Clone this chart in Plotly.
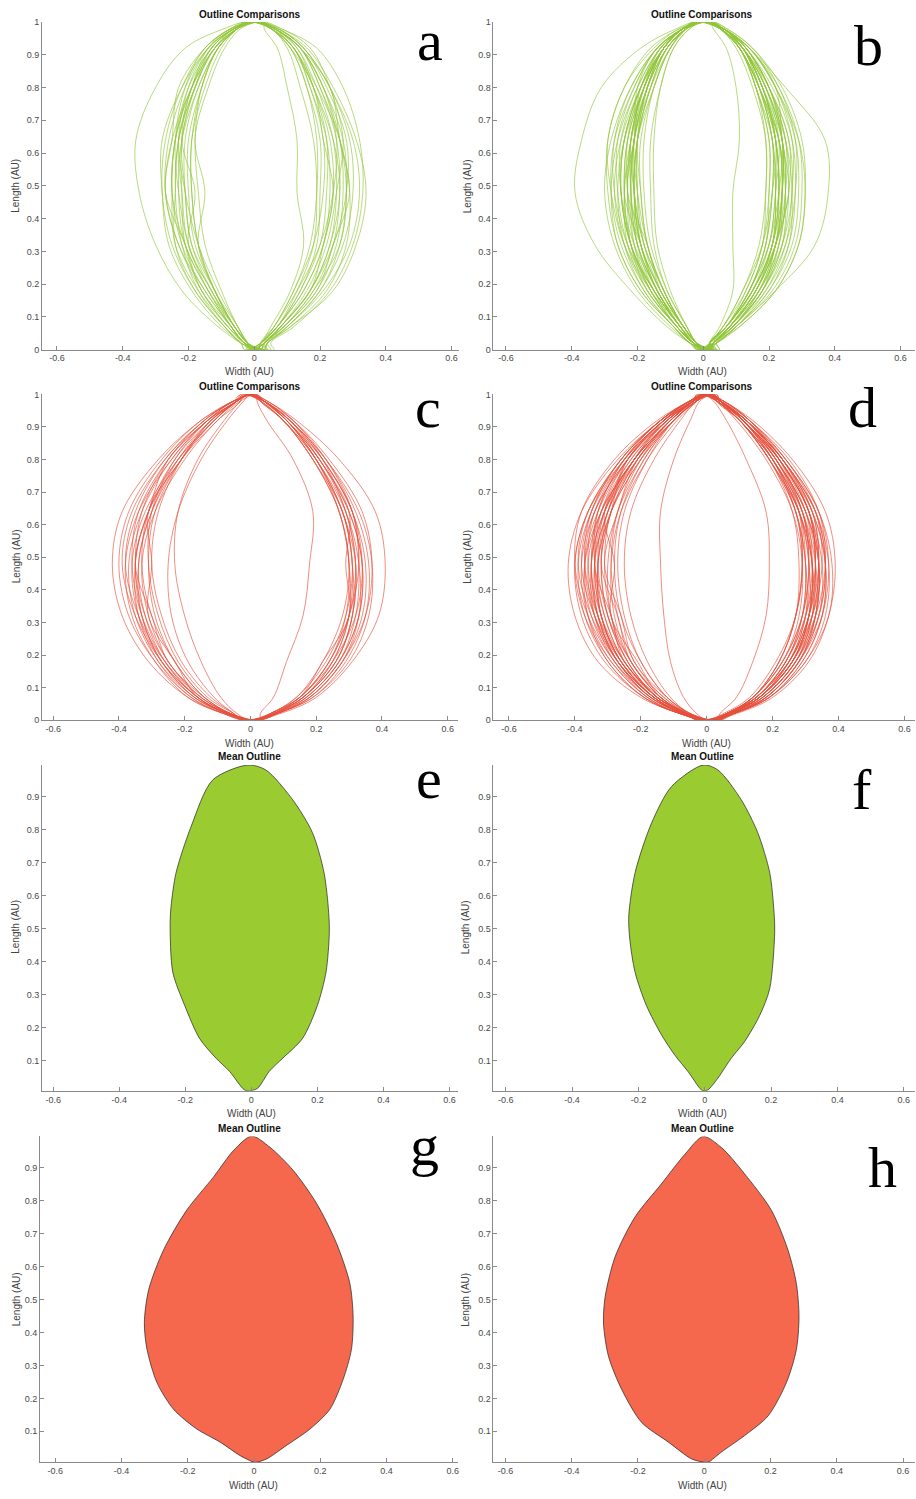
import plotly.graph_objects as go

# ---------------- data ----------------
Y_LEVELS = [0.02, 0.07, 0.18, 0.32, 0.48, 0.64, 0.80, 0.92, 0.98]

# Panel a (green outline comparisons): x of left / right edge at each level
A_LEFT = [
    [-0.04, -0.11, -0.22, -0.30, -0.35, -0.36, -0.30, -0.21, -0.09],
    [-0.03, -0.07, -0.15, -0.22, -0.25, -0.24, -0.19, -0.12, -0.05],
    [-0.02, -0.06, -0.12, -0.17, -0.19, -0.19, -0.15, -0.10, -0.05],
    [-0.03, -0.08, -0.16, -0.23, -0.27, -0.26, -0.21, -0.14, -0.06],
    [-0.02, -0.05, -0.12, -0.17, -0.15, -0.18, -0.14, -0.09, -0.04],
    [-0.04, -0.09, -0.18, -0.25, -0.28, -0.27, -0.22, -0.15, -0.07],
    [-0.02, -0.06, -0.13, -0.20, -0.22, -0.23, -0.18, -0.12, -0.05],
    [-0.03, -0.07, -0.14, -0.21, -0.23, -0.22, -0.17, -0.11, -0.05],
    [-0.02, -0.06, -0.12, -0.19, -0.21, -0.21, -0.17, -0.11, -0.05],
    [-0.04, -0.10, -0.19, -0.26, -0.28, -0.28, -0.22, -0.14, -0.06],
    [-0.03, -0.07, -0.13, -0.20, -0.18, -0.22, -0.19, -0.13, -0.06],
    [-0.02, -0.06, -0.14, -0.21, -0.25, -0.24, -0.20, -0.13, -0.06],
    [-0.03, -0.08, -0.17, -0.24, -0.25, -0.24, -0.19, -0.13, -0.06],
    [-0.02, -0.05, -0.10, -0.15, -0.17, -0.18, -0.16, -0.11, -0.05],
    [-0.04, -0.09, -0.18, -0.24, -0.24, -0.23, -0.18, -0.12, -0.06],
    [-0.03, -0.07, -0.16, -0.21, -0.27, -0.25, -0.23, -0.15, -0.07],
    [-0.02, -0.06, -0.12, -0.17, -0.19, -0.19, -0.16, -0.11, -0.05],
    [-0.03, -0.08, -0.16, -0.21, -0.22, -0.22, -0.18, -0.13, -0.06],
    [-0.03, -0.07, -0.15, -0.23, -0.27, -0.25, -0.19, -0.12, -0.05],
    [-0.02, -0.06, -0.13, -0.19, -0.21, -0.22, -0.18, -0.12, -0.05],
    [-0.04, -0.09, -0.17, -0.22, -0.24, -0.23, -0.19, -0.14, -0.07],
    [-0.02, -0.05, -0.11, -0.17, -0.21, -0.23, -0.20, -0.14, -0.06],
    [-0.03, -0.07, -0.14, -0.20, -0.23, -0.24, -0.21, -0.15, -0.07],
    [-0.02, -0.06, -0.12, -0.18, -0.20, -0.20, -0.16, -0.11, -0.05],
]
A_RIGHT = [
    [0.03, 0.09, 0.18, 0.26, 0.28, 0.26, 0.20, 0.14, 0.06],
    [0.04, 0.11, 0.24, 0.31, 0.34, 0.31, 0.24, 0.16, 0.07],
    [0.03, 0.08, 0.17, 0.23, 0.25, 0.24, 0.19, 0.13, 0.06],
    [0.02, 0.07, 0.15, 0.21, 0.24, 0.23, 0.18, 0.12, 0.05],
    [0.02, 0.06, 0.12, 0.18, 0.21, 0.21, 0.17, 0.12, 0.05],
    [0.04, 0.10, 0.20, 0.27, 0.30, 0.29, 0.23, 0.15, 0.07],
    [0.02, 0.05, 0.11, 0.15, 0.13, 0.13, 0.10, 0.07, 0.03],
    [0.03, 0.09, 0.19, 0.25, 0.27, 0.26, 0.21, 0.14, 0.06],
    [0.03, 0.08, 0.17, 0.21, 0.24, 0.21, 0.18, 0.11, 0.05],
    [0.02, 0.07, 0.14, 0.20, 0.22, 0.22, 0.18, 0.13, 0.06],
    [0.04, 0.10, 0.21, 0.29, 0.32, 0.30, 0.23, 0.15, 0.07],
    [0.02, 0.07, 0.14, 0.19, 0.20, 0.20, 0.16, 0.11, 0.05],
    [0.03, 0.09, 0.18, 0.24, 0.26, 0.25, 0.20, 0.14, 0.06],
    [0.02, 0.07, 0.13, 0.18, 0.19, 0.18, 0.14, 0.10, 0.05],
    [0.04, 0.11, 0.22, 0.28, 0.29, 0.26, 0.19, 0.12, 0.06],
    [0.03, 0.08, 0.17, 0.24, 0.28, 0.28, 0.22, 0.15, 0.07],
    [0.02, 0.06, 0.13, 0.20, 0.24, 0.25, 0.21, 0.14, 0.06],
    [0.03, 0.08, 0.16, 0.22, 0.25, 0.27, 0.23, 0.17, 0.08],
    [0.05, 0.12, 0.23, 0.30, 0.33, 0.32, 0.27, 0.19, 0.08],
    [0.02, 0.07, 0.15, 0.21, 0.23, 0.22, 0.17, 0.12, 0.05],
    [0.02, 0.06, 0.12, 0.17, 0.19, 0.19, 0.16, 0.11, 0.05],
    [0.03, 0.09, 0.19, 0.24, 0.29, 0.26, 0.23, 0.14, 0.06],
    [0.03, 0.08, 0.17, 0.23, 0.26, 0.24, 0.18, 0.12, 0.05],
    [0.04, 0.10, 0.20, 0.26, 0.28, 0.27, 0.21, 0.14, 0.06],
]
A_BOTTOM_TIP = [0.00, 0.03, 0.02, -0.01, 0.01, 0.02, -0.02, 0.04, 0.00, -0.03, 0.05, 0.01,
                0.02, -0.01, 0.03, 0.00, 0.04, -0.02, 0.06, 0.01, -0.03, 0.02, 0.00, 0.03]
A_TOP_TIP = [-0.02, 0.01, -0.01, 0.00, 0.02, -0.03, 0.03, 0.00, -0.01, 0.01, -0.02, 0.02,
             0.00, -0.03, 0.01, 0.02, -0.01, 0.00, 0.03, -0.02, 0.01, 0.00, -0.01, 0.02]

# Panel b (green outline comparisons)
B_LEFT = [
    [-0.04, -0.11, -0.22, -0.33, -0.39, -0.37, -0.31, -0.19, -0.08],
    [-0.03, -0.07, -0.15, -0.22, -0.25, -0.24, -0.19, -0.12, -0.06],
    [-0.03, -0.08, -0.16, -0.22, -0.24, -0.23, -0.18, -0.12, -0.06],
    [-0.02, -0.07, -0.14, -0.20, -0.22, -0.21, -0.17, -0.11, -0.05],
    [-0.02, -0.06, -0.13, -0.19, -0.21, -0.20, -0.16, -0.11, -0.05],
    [-0.03, -0.08, -0.16, -0.22, -0.25, -0.24, -0.19, -0.13, -0.06],
    [-0.02, -0.06, -0.12, -0.17, -0.19, -0.19, -0.15, -0.10, -0.05],
    [-0.04, -0.09, -0.18, -0.25, -0.28, -0.27, -0.21, -0.14, -0.06],
    [-0.03, -0.07, -0.15, -0.21, -0.23, -0.22, -0.18, -0.12, -0.06],
    [-0.02, -0.05, -0.11, -0.16, -0.18, -0.18, -0.15, -0.10, -0.05],
    [-0.03, -0.08, -0.17, -0.24, -0.27, -0.25, -0.19, -0.12, -0.06],
    [-0.03, -0.07, -0.14, -0.19, -0.20, -0.20, -0.17, -0.12, -0.06],
    [-0.02, -0.06, -0.14, -0.19, -0.24, -0.21, -0.19, -0.12, -0.06],
    [-0.04, -0.10, -0.20, -0.27, -0.30, -0.28, -0.22, -0.14, -0.06],
    [-0.02, -0.06, -0.12, -0.18, -0.21, -0.22, -0.18, -0.12, -0.06],
    [-0.03, -0.07, -0.14, -0.19, -0.21, -0.21, -0.17, -0.11, -0.05],
    [-0.03, -0.08, -0.16, -0.23, -0.26, -0.26, -0.21, -0.14, -0.06],
    [-0.02, -0.05, -0.11, -0.15, -0.16, -0.16, -0.13, -0.09, -0.04],
    [-0.03, -0.07, -0.15, -0.22, -0.24, -0.23, -0.18, -0.12, -0.06],
    [-0.04, -0.09, -0.19, -0.26, -0.28, -0.26, -0.20, -0.13, -0.06],
    [-0.02, -0.06, -0.13, -0.18, -0.20, -0.20, -0.16, -0.11, -0.05],
    [-0.03, -0.07, -0.14, -0.21, -0.25, -0.25, -0.20, -0.13, -0.06],
    [-0.03, -0.08, -0.16, -0.21, -0.22, -0.21, -0.17, -0.12, -0.06],
    [-0.02, -0.06, -0.12, -0.17, -0.20, -0.21, -0.18, -0.13, -0.06],
    [-0.03, -0.07, -0.15, -0.23, -0.27, -0.27, -0.22, -0.14, -0.06],
    [-0.02, -0.06, -0.13, -0.19, -0.22, -0.21, -0.16, -0.10, -0.05],
    [-0.03, -0.08, -0.17, -0.22, -0.23, -0.22, -0.18, -0.12, -0.06],
    [-0.02, -0.05, -0.10, -0.14, -0.15, -0.15, -0.13, -0.09, -0.04],
    [-0.04, -0.09, -0.18, -0.24, -0.26, -0.24, -0.18, -0.12, -0.06],
    [-0.03, -0.07, -0.14, -0.20, -0.23, -0.23, -0.19, -0.13, -0.06],
    [-0.02, -0.06, -0.13, -0.17, -0.23, -0.21, -0.20, -0.14, -0.06],
    [-0.03, -0.08, -0.15, -0.20, -0.21, -0.20, -0.16, -0.11, -0.05],
    [-0.03, -0.07, -0.16, -0.24, -0.28, -0.29, -0.24, -0.16, -0.07],
    [-0.02, -0.06, -0.13, -0.19, -0.21, -0.20, -0.15, -0.10, -0.05],
    [-0.03, -0.07, -0.14, -0.20, -0.22, -0.22, -0.18, -0.12, -0.06],
    [-0.03, -0.08, -0.17, -0.23, -0.24, -0.22, -0.17, -0.11, -0.05],
    [-0.02, -0.06, -0.12, -0.18, -0.21, -0.21, -0.17, -0.12, -0.06],
    [-0.03, -0.07, -0.15, -0.22, -0.25, -0.24, -0.19, -0.12, -0.06],
    [-0.02, -0.06, -0.12, -0.17, -0.19, -0.20, -0.17, -0.12, -0.06],
    [-0.04, -0.09, -0.19, -0.26, -0.29, -0.29, -0.24, -0.15, -0.07],
]
B_RIGHT = [
    [0.03, 0.08, 0.16, 0.22, 0.24, 0.23, 0.18, 0.12, 0.06],
    [0.04, 0.10, 0.22, 0.34, 0.38, 0.37, 0.25, 0.14, 0.06],
    [0.02, 0.05, 0.09, 0.09, 0.09, 0.11, 0.10, 0.07, 0.03],
    [0.02, 0.07, 0.15, 0.21, 0.23, 0.22, 0.17, 0.11, 0.05],
    [0.03, 0.08, 0.16, 0.21, 0.22, 0.21, 0.16, 0.11, 0.05],
    [0.03, 0.09, 0.18, 0.24, 0.26, 0.25, 0.20, 0.13, 0.06],
    [0.02, 0.07, 0.14, 0.19, 0.21, 0.21, 0.17, 0.12, 0.06],
    [0.03, 0.08, 0.17, 0.23, 0.25, 0.24, 0.19, 0.12, 0.05],
    [0.04, 0.10, 0.20, 0.27, 0.29, 0.28, 0.22, 0.14, 0.06],
    [0.02, 0.06, 0.12, 0.17, 0.19, 0.19, 0.16, 0.11, 0.05],
    [0.02, 0.07, 0.14, 0.19, 0.20, 0.20, 0.16, 0.11, 0.05],
    [0.03, 0.09, 0.18, 0.25, 0.28, 0.28, 0.23, 0.15, 0.07],
    [0.03, 0.08, 0.15, 0.20, 0.22, 0.22, 0.18, 0.12, 0.06],
    [0.03, 0.09, 0.17, 0.22, 0.24, 0.24, 0.20, 0.13, 0.06],
    [0.04, 0.11, 0.22, 0.29, 0.31, 0.29, 0.22, 0.14, 0.06],
    [0.02, 0.07, 0.14, 0.20, 0.22, 0.23, 0.19, 0.13, 0.06],
    [0.03, 0.08, 0.16, 0.22, 0.25, 0.25, 0.20, 0.13, 0.06],
    [0.02, 0.07, 0.15, 0.21, 0.24, 0.24, 0.19, 0.12, 0.05],
    [0.02, 0.06, 0.13, 0.18, 0.20, 0.20, 0.16, 0.11, 0.05],
    [0.03, 0.09, 0.19, 0.26, 0.28, 0.27, 0.21, 0.13, 0.06],
    [0.03, 0.08, 0.16, 0.22, 0.24, 0.23, 0.17, 0.11, 0.05],
    [0.02, 0.07, 0.14, 0.19, 0.21, 0.21, 0.17, 0.12, 0.06],
    [0.04, 0.10, 0.20, 0.26, 0.27, 0.25, 0.19, 0.12, 0.05],
    [0.03, 0.08, 0.18, 0.22, 0.26, 0.24, 0.22, 0.14, 0.06],
    [0.02, 0.07, 0.13, 0.18, 0.19, 0.19, 0.15, 0.10, 0.05],
    [0.03, 0.09, 0.18, 0.23, 0.24, 0.23, 0.18, 0.12, 0.06],
    [0.02, 0.07, 0.15, 0.22, 0.26, 0.26, 0.20, 0.12, 0.05],
    [0.02, 0.06, 0.12, 0.18, 0.21, 0.22, 0.18, 0.12, 0.06],
    [0.03, 0.08, 0.17, 0.24, 0.27, 0.26, 0.20, 0.13, 0.06],
    [0.03, 0.09, 0.17, 0.22, 0.23, 0.22, 0.17, 0.11, 0.05],
    [0.02, 0.07, 0.15, 0.21, 0.23, 0.22, 0.18, 0.12, 0.06],
    [0.04, 0.10, 0.21, 0.28, 0.30, 0.29, 0.23, 0.14, 0.06],
    [0.03, 0.08, 0.16, 0.21, 0.23, 0.22, 0.18, 0.12, 0.06],
    [0.02, 0.07, 0.14, 0.20, 0.23, 0.24, 0.20, 0.13, 0.06],
    [0.03, 0.08, 0.16, 0.22, 0.24, 0.24, 0.19, 0.12, 0.05],
    [0.03, 0.09, 0.18, 0.24, 0.25, 0.23, 0.17, 0.11, 0.05],
    [0.02, 0.07, 0.15, 0.21, 0.22, 0.21, 0.17, 0.11, 0.05],
    [0.04, 0.10, 0.19, 0.25, 0.27, 0.27, 0.22, 0.14, 0.06],
    [0.03, 0.08, 0.17, 0.23, 0.25, 0.24, 0.18, 0.12, 0.05],
    [0.04, 0.11, 0.22, 0.29, 0.31, 0.30, 0.24, 0.15, 0.07],
]
B_BOTTOM_TIP = [0.00, 0.02, 0.03, -0.01, 0.01, 0.02, 0.00, 0.04, -0.02, 0.01, 0.03, 0.00, 0.02, -0.01,
                0.05, 0.01, 0.00, 0.03, -0.02, 0.02, 0.01, 0.04, 0.00, -0.01, 0.02, 0.03, 0.00, 0.01,
                -0.02, 0.02, 0.04, 0.00, 0.01, 0.03, -0.01, 0.02, 0.00, 0.05, 0.01, -0.01]
B_TOP_TIP = [-0.02, 0.01, 0.02, 0.00, -0.01, 0.02, 0.01, -0.03, 0.00, 0.02, -0.01, 0.03, 0.00, -0.02,
             0.01, 0.02, -0.01, 0.00, 0.03, -0.02, 0.01, 0.00, 0.02, -0.01, 0.01, -0.03, 0.02, 0.00,
             0.01, -0.02, 0.00, 0.03, -0.01, 0.01, 0.02, -0.02, 0.00, 0.01, -0.01, 0.02]

# Panel c (red outline comparisons)
C_LEFT = [
    [-0.08, -0.19, -0.31, -0.39, -0.42, -0.39, -0.28, -0.15, -0.05],
    [-0.07, -0.16, -0.26, -0.32, -0.34, -0.30, -0.21, -0.11, -0.04],
    [-0.04, -0.09, -0.15, -0.20, -0.23, -0.22, -0.16, -0.08, -0.03],
    [-0.06, -0.15, -0.25, -0.31, -0.33, -0.29, -0.20, -0.10, -0.03],
    [-0.07, -0.17, -0.28, -0.35, -0.37, -0.33, -0.24, -0.13, -0.04],
    [-0.06, -0.14, -0.25, -0.30, -0.35, -0.31, -0.25, -0.13, -0.05],
    [-0.07, -0.17, -0.27, -0.34, -0.36, -0.32, -0.22, -0.11, -0.04],
    [-0.05, -0.12, -0.21, -0.27, -0.30, -0.28, -0.21, -0.12, -0.04],
    [-0.06, -0.15, -0.26, -0.34, -0.38, -0.35, -0.26, -0.14, -0.05],
    [-0.08, -0.19, -0.29, -0.36, -0.38, -0.34, -0.24, -0.13, -0.04],
    [-0.05, -0.11, -0.19, -0.24, -0.25, -0.22, -0.15, -0.07, -0.02],
    [-0.07, -0.16, -0.27, -0.33, -0.35, -0.33, -0.25, -0.14, -0.05],
    [-0.06, -0.15, -0.25, -0.32, -0.35, -0.31, -0.22, -0.11, -0.04],
    [-0.08, -0.18, -0.29, -0.37, -0.40, -0.37, -0.27, -0.15, -0.05],
    [-0.06, -0.14, -0.23, -0.29, -0.31, -0.29, -0.21, -0.11, -0.04],
    [-0.07, -0.16, -0.26, -0.33, -0.36, -0.34, -0.25, -0.13, -0.04],
    [-0.05, -0.13, -0.22, -0.28, -0.31, -0.30, -0.23, -0.13, -0.05],
    [-0.08, -0.18, -0.28, -0.34, -0.35, -0.31, -0.21, -0.10, -0.03],
    [-0.06, -0.16, -0.23, -0.31, -0.30, -0.31, -0.21, -0.12, -0.04],
    [-0.07, -0.16, -0.27, -0.35, -0.39, -0.36, -0.26, -0.14, -0.05],
    [-0.06, -0.14, -0.23, -0.30, -0.33, -0.31, -0.23, -0.12, -0.04],
    [-0.07, -0.17, -0.27, -0.33, -0.34, -0.30, -0.22, -0.12, -0.04],
]
C_RIGHT = [
    [0.07, 0.16, 0.26, 0.31, 0.32, 0.28, 0.20, 0.11, 0.04],
    [0.09, 0.20, 0.31, 0.39, 0.41, 0.38, 0.27, 0.14, 0.05],
    [0.06, 0.14, 0.23, 0.29, 0.31, 0.28, 0.20, 0.11, 0.04],
    [0.03, 0.07, 0.11, 0.16, 0.18, 0.19, 0.13, 0.05, 0.02],
    [0.08, 0.17, 0.27, 0.33, 0.34, 0.30, 0.21, 0.11, 0.04],
    [0.07, 0.15, 0.24, 0.30, 0.32, 0.29, 0.21, 0.11, 0.04],
    [0.07, 0.16, 0.25, 0.30, 0.31, 0.28, 0.19, 0.10, 0.03],
    [0.08, 0.18, 0.28, 0.34, 0.35, 0.31, 0.22, 0.12, 0.04],
    [0.06, 0.14, 0.22, 0.28, 0.30, 0.27, 0.19, 0.10, 0.03],
    [0.08, 0.19, 0.29, 0.35, 0.36, 0.32, 0.23, 0.12, 0.04],
    [0.07, 0.15, 0.25, 0.32, 0.34, 0.31, 0.22, 0.12, 0.04],
    [0.07, 0.16, 0.26, 0.31, 0.32, 0.29, 0.22, 0.13, 0.05],
    [0.08, 0.18, 0.28, 0.33, 0.33, 0.29, 0.20, 0.10, 0.03],
    [0.07, 0.16, 0.25, 0.30, 0.30, 0.27, 0.19, 0.10, 0.03],
    [0.06, 0.15, 0.22, 0.30, 0.29, 0.30, 0.21, 0.12, 0.04],
    [0.08, 0.19, 0.30, 0.36, 0.37, 0.33, 0.23, 0.12, 0.04],
    [0.06, 0.15, 0.24, 0.29, 0.30, 0.27, 0.20, 0.11, 0.04],
    [0.07, 0.17, 0.27, 0.33, 0.34, 0.30, 0.21, 0.11, 0.04],
    [0.08, 0.17, 0.27, 0.32, 0.33, 0.31, 0.23, 0.13, 0.05],
    [0.06, 0.15, 0.24, 0.30, 0.33, 0.31, 0.22, 0.11, 0.04],
    [0.07, 0.16, 0.26, 0.31, 0.31, 0.28, 0.20, 0.10, 0.03],
    [0.08, 0.18, 0.28, 0.35, 0.37, 0.34, 0.24, 0.13, 0.04],
]
C_BOTTOM_TIP = [-0.02, 0.01, 0.00, 0.03, -0.01, 0.02, 0.00, -0.03, 0.01, 0.02, -0.02,
                0.00, 0.03, -0.01, 0.01, 0.02, -0.02, 0.00, 0.01, 0.03, -0.01, 0.00]
C_TOP_TIP = [-0.03, 0.00, -0.01, 0.02, -0.02, 0.01, 0.00, -0.03, 0.02, -0.01, 0.00,
             0.01, -0.02, 0.02, 0.00, -0.01, 0.01, -0.03, 0.00, 0.02, -0.02, 0.01]

# Panel d (red outline comparisons)
D_LEFT = [
    [-0.08, -0.20, -0.33, -0.40, -0.42, -0.38, -0.27, -0.14, -0.05],
    [-0.07, -0.16, -0.26, -0.32, -0.34, -0.31, -0.22, -0.11, -0.04],
    [-0.03, -0.07, -0.11, -0.13, -0.14, -0.14, -0.10, -0.05, -0.02],
    [-0.06, -0.15, -0.24, -0.30, -0.32, -0.29, -0.21, -0.11, -0.04],
    [-0.07, -0.17, -0.28, -0.35, -0.37, -0.33, -0.24, -0.13, -0.04],
    [-0.06, -0.14, -0.25, -0.29, -0.34, -0.30, -0.24, -0.12, -0.04],
    [-0.07, -0.17, -0.27, -0.34, -0.36, -0.32, -0.22, -0.11, -0.04],
    [-0.05, -0.12, -0.20, -0.26, -0.28, -0.26, -0.19, -0.10, -0.03],
    [-0.06, -0.15, -0.26, -0.34, -0.38, -0.35, -0.26, -0.14, -0.05],
    [-0.08, -0.19, -0.30, -0.37, -0.39, -0.35, -0.25, -0.13, -0.04],
    [-0.05, -0.11, -0.18, -0.23, -0.25, -0.23, -0.16, -0.08, -0.03],
    [-0.07, -0.16, -0.27, -0.33, -0.35, -0.33, -0.25, -0.14, -0.05],
    [-0.06, -0.15, -0.25, -0.32, -0.35, -0.31, -0.22, -0.11, -0.04],
    [-0.08, -0.18, -0.29, -0.37, -0.40, -0.36, -0.26, -0.14, -0.05],
    [-0.06, -0.14, -0.23, -0.29, -0.31, -0.29, -0.21, -0.11, -0.04],
    [-0.07, -0.16, -0.26, -0.33, -0.36, -0.34, -0.25, -0.13, -0.04],
    [-0.05, -0.14, -0.21, -0.29, -0.28, -0.31, -0.22, -0.13, -0.05],
    [-0.08, -0.18, -0.28, -0.34, -0.35, -0.31, -0.21, -0.10, -0.03],
    [-0.06, -0.15, -0.24, -0.30, -0.32, -0.30, -0.22, -0.12, -0.04],
    [-0.07, -0.16, -0.27, -0.35, -0.39, -0.36, -0.26, -0.14, -0.05],
    [-0.06, -0.14, -0.23, -0.30, -0.33, -0.31, -0.23, -0.12, -0.04],
    [-0.07, -0.17, -0.27, -0.33, -0.34, -0.30, -0.22, -0.12, -0.04],
    [-0.06, -0.15, -0.25, -0.31, -0.33, -0.29, -0.20, -0.10, -0.03],
    [-0.08, -0.19, -0.31, -0.38, -0.40, -0.36, -0.25, -0.13, -0.04],
    [-0.05, -0.13, -0.22, -0.27, -0.29, -0.27, -0.20, -0.11, -0.04],
    [-0.07, -0.16, -0.26, -0.32, -0.33, -0.30, -0.21, -0.11, -0.04],
    [-0.05, -0.12, -0.22, -0.26, -0.31, -0.27, -0.21, -0.10, -0.03],
    [-0.08, -0.18, -0.29, -0.36, -0.38, -0.34, -0.24, -0.13, -0.04],
    [-0.06, -0.15, -0.24, -0.29, -0.30, -0.27, -0.19, -0.10, -0.03],
    [-0.07, -0.17, -0.28, -0.36, -0.40, -0.38, -0.28, -0.15, -0.05],
    [-0.06, -0.14, -0.23, -0.28, -0.29, -0.26, -0.18, -0.09, -0.03],
    [-0.07, -0.16, -0.26, -0.32, -0.34, -0.32, -0.24, -0.13, -0.05],
    [-0.07, -0.17, -0.27, -0.33, -0.35, -0.32, -0.23, -0.12, -0.04],
    [-0.06, -0.15, -0.25, -0.33, -0.37, -0.35, -0.26, -0.14, -0.05],
    [-0.05, -0.12, -0.20, -0.25, -0.27, -0.25, -0.18, -0.10, -0.03],
    [-0.07, -0.16, -0.27, -0.34, -0.37, -0.34, -0.24, -0.12, -0.04],
    [-0.06, -0.13, -0.23, -0.27, -0.32, -0.29, -0.24, -0.13, -0.05],
    [-0.08, -0.19, -0.30, -0.36, -0.37, -0.32, -0.22, -0.11, -0.04],
    [-0.06, -0.15, -0.25, -0.31, -0.34, -0.33, -0.25, -0.14, -0.05],
    [-0.07, -0.16, -0.26, -0.32, -0.33, -0.29, -0.20, -0.10, -0.03],
]
D_RIGHT = [
    [0.07, 0.16, 0.26, 0.31, 0.32, 0.28, 0.20, 0.10, 0.03],
    [0.09, 0.20, 0.31, 0.37, 0.39, 0.36, 0.26, 0.14, 0.05],
    [0.05, 0.13, 0.21, 0.27, 0.29, 0.27, 0.20, 0.11, 0.04],
    [0.04, 0.09, 0.14, 0.18, 0.19, 0.18, 0.12, 0.06, 0.02],
    [0.08, 0.17, 0.27, 0.33, 0.34, 0.30, 0.21, 0.11, 0.04],
    [0.07, 0.15, 0.24, 0.30, 0.32, 0.30, 0.22, 0.12, 0.04],
    [0.07, 0.16, 0.25, 0.30, 0.31, 0.28, 0.19, 0.10, 0.03],
    [0.08, 0.18, 0.28, 0.34, 0.36, 0.33, 0.23, 0.12, 0.04],
    [0.06, 0.14, 0.22, 0.27, 0.29, 0.27, 0.19, 0.10, 0.03],
    [0.08, 0.19, 0.29, 0.35, 0.36, 0.32, 0.23, 0.12, 0.04],
    [0.07, 0.15, 0.25, 0.31, 0.33, 0.31, 0.22, 0.12, 0.04],
    [0.07, 0.16, 0.26, 0.31, 0.32, 0.29, 0.22, 0.13, 0.05],
    [0.08, 0.18, 0.28, 0.33, 0.33, 0.29, 0.20, 0.10, 0.03],
    [0.07, 0.16, 0.25, 0.30, 0.30, 0.27, 0.19, 0.10, 0.03],
    [0.06, 0.14, 0.23, 0.29, 0.31, 0.29, 0.21, 0.12, 0.04],
    [0.08, 0.19, 0.30, 0.36, 0.37, 0.33, 0.23, 0.12, 0.04],
    [0.06, 0.15, 0.24, 0.29, 0.30, 0.27, 0.20, 0.11, 0.04],
    [0.07, 0.17, 0.27, 0.33, 0.34, 0.30, 0.21, 0.11, 0.04],
    [0.08, 0.17, 0.27, 0.32, 0.33, 0.31, 0.23, 0.13, 0.05],
    [0.06, 0.15, 0.24, 0.30, 0.33, 0.31, 0.22, 0.11, 0.04],
    [0.07, 0.16, 0.26, 0.31, 0.31, 0.28, 0.20, 0.10, 0.03],
    [0.08, 0.18, 0.28, 0.35, 0.37, 0.34, 0.24, 0.13, 0.04],
    [0.06, 0.15, 0.25, 0.32, 0.35, 0.33, 0.24, 0.13, 0.05],
    [0.07, 0.16, 0.26, 0.32, 0.34, 0.31, 0.22, 0.11, 0.04],
    [0.06, 0.14, 0.22, 0.27, 0.28, 0.26, 0.19, 0.10, 0.03],
    [0.08, 0.19, 0.30, 0.37, 0.38, 0.34, 0.24, 0.12, 0.04],
    [0.07, 0.16, 0.26, 0.32, 0.34, 0.32, 0.23, 0.12, 0.04],
    [0.06, 0.14, 0.23, 0.28, 0.29, 0.26, 0.18, 0.09, 0.03],
    [0.08, 0.18, 0.28, 0.34, 0.35, 0.31, 0.22, 0.11, 0.04],
    [0.07, 0.16, 0.25, 0.31, 0.33, 0.30, 0.21, 0.11, 0.04],
    [0.07, 0.17, 0.27, 0.34, 0.36, 0.33, 0.23, 0.12, 0.04],
    [0.06, 0.14, 0.23, 0.29, 0.31, 0.29, 0.21, 0.11, 0.04],
    [0.08, 0.19, 0.29, 0.35, 0.36, 0.32, 0.22, 0.11, 0.03],
    [0.06, 0.15, 0.24, 0.29, 0.30, 0.28, 0.20, 0.11, 0.04],
    [0.07, 0.16, 0.26, 0.31, 0.32, 0.29, 0.20, 0.10, 0.03],
    [0.08, 0.18, 0.28, 0.33, 0.34, 0.31, 0.22, 0.12, 0.04],
    [0.07, 0.15, 0.25, 0.31, 0.34, 0.32, 0.23, 0.12, 0.04],
    [0.08, 0.17, 0.27, 0.32, 0.32, 0.28, 0.19, 0.10, 0.03],
    [0.07, 0.16, 0.26, 0.33, 0.36, 0.34, 0.25, 0.13, 0.05],
    [0.06, 0.14, 0.22, 0.27, 0.29, 0.28, 0.21, 0.11, 0.04],
]
D_BOTTOM_TIP = [-0.01, 0.02, 0.00, 0.03, -0.02, 0.01, 0.00, 0.04, -0.03, 0.02, 0.01, -0.01, 0.00, 0.03,
                -0.02, 0.01, 0.02, 0.00, -0.01, 0.04, 0.01, -0.02, 0.00, 0.02, 0.03, -0.01, 0.01, 0.00,
                -0.03, 0.02, 0.00, 0.01, 0.03, -0.02, 0.00, 0.02, -0.01, 0.01, 0.04, 0.00]
D_TOP_TIP = [-0.02, 0.01, 0.02, -0.01, 0.00, 0.02, -0.03, 0.01, 0.00, -0.02, 0.03, 0.00, -0.01, 0.01,
             0.02, -0.02, 0.00, 0.01, -0.03, 0.02, 0.00, -0.01, 0.01, 0.03, -0.02, 0.00, 0.02, -0.01,
             0.01, 0.00, -0.02, 0.02, 0.00, -0.01, 0.03, 0.01, -0.02, 0.00, 0.01, -0.01]

# Mean outlines (closed paths: bottom -> right side up -> top -> left side down)
E_X = [-0.005, 0.019, 0.054, 0.095, 0.155, 0.200, 0.226, 0.236, 0.234, 0.220, 0.185, 0.125, 0.044,
       -0.011, -0.117, -0.182, -0.228, -0.243, -0.246, -0.238, -0.202, -0.157, -0.107, -0.066, -0.021, -0.005]
E_Y = [0.008, 0.016, 0.067, 0.107, 0.167, 0.267, 0.368, 0.488, 0.549, 0.669, 0.790, 0.890, 0.980,
       0.995, 0.950, 0.810, 0.669, 0.569, 0.518, 0.368, 0.267, 0.167, 0.107, 0.067, 0.011, 0.008]

F_X = [0.000, 0.010, 0.040, 0.080, 0.120, 0.166, 0.196, 0.211, 0.209, 0.196, 0.160, 0.110, 0.040,
       -0.005, -0.100, -0.160, -0.210, -0.229, -0.226, -0.210, -0.176, -0.130, -0.090, -0.050, -0.010, 0.000]
F_Y = [0.008, 0.011, 0.047, 0.107, 0.157, 0.237, 0.318, 0.488, 0.549, 0.669, 0.790, 0.890, 0.980,
       0.995, 0.930, 0.820, 0.669, 0.538, 0.468, 0.367, 0.267, 0.177, 0.116, 0.066, 0.011, 0.008]

G_X = [0.000, 0.008, 0.038, 0.098, 0.169, 0.229, 0.269, 0.294, 0.299, 0.289, 0.249, 0.189, 0.118, 0.048,
       -0.007, -0.062, -0.122, -0.203, -0.273, -0.318, -0.331, -0.323, -0.293, -0.243, -0.173, -0.102, -0.042, 0.000]
G_Y = [0.006, 0.006, 0.016, 0.057, 0.107, 0.167, 0.258, 0.349, 0.450, 0.550, 0.671, 0.792, 0.893, 0.963,
       0.997, 0.953, 0.873, 0.772, 0.651, 0.530, 0.430, 0.349, 0.248, 0.167, 0.107, 0.067, 0.026, 0.006]

H_X = [0.000, 0.012, 0.052, 0.122, 0.193, 0.248, 0.278, 0.286, 0.278, 0.253, 0.203, 0.122, 0.052,
       -0.003, -0.058, -0.129, -0.209, -0.269, -0.299, -0.304, -0.289, -0.249, -0.189, -0.108, -0.038, 0.000]
H_Y = [0.006, 0.006, 0.037, 0.087, 0.147, 0.248, 0.348, 0.449, 0.549, 0.650, 0.771, 0.882, 0.962,
       0.996, 0.942, 0.852, 0.751, 0.630, 0.509, 0.429, 0.328, 0.227, 0.127, 0.067, 0.016, 0.006]

X_TICKS = [-0.6, -0.4, -0.2, 0, 0.2, 0.4, 0.6]
X_TICK_TEXT = ["-0.6", "-0.4", "-0.2", "0", "0.2", "0.4", "0.6"]
Y_TICKS_FULL = [0, 0.1, 0.2, 0.3, 0.4, 0.5, 0.6, 0.7, 0.8, 0.9, 1]
Y_TICK_TEXT_FULL = ["0", "0.1", "0.2", "0.3", "0.4", "0.5", "0.6", "0.7", "0.8", "0.9", "1"]
Y_TICKS_MEAN = [0.1, 0.2, 0.3, 0.4, 0.5, 0.6, 0.7, 0.8, 0.9]
Y_TICK_TEXT_MEAN = ["0.1", "0.2", "0.3", "0.4", "0.5", "0.6", "0.7", "0.8", "0.9"]

PANEL_LETTERS = ["a", "b", "c", "d", "e", "f", "g", "h"]
TITLE_COMPARE = "Outline Comparisons"
TITLE_MEAN = "Mean Outline"
X_LABEL = "Width (AU)"
Y_LABEL = "Length (AU)"

# ---------------- styling ----------------
W, H = 916, 1499
GREEN_LINE = "rgb(146,198,58)"
RED_LINE = "rgb(230,80,60)"
GREEN_FILL = "rgb(154,204,50)"
RED_FILL = "rgb(246,104,78)"
AXIS_COLOR = "#8a8a8a"
TICK_FONT = dict(family="Liberation Sans, Arial, sans-serif", size=9, color="#4a4a4a")
SANS = "Liberation Sans, Arial, sans-serif"


def outline_path(left_rows, right_rows, bots, tops):
    xs, ys = [], []
    for L, R, b, t in zip(left_rows, right_rows, bots, tops):
        xs += [b] + list(R) + [t] + list(reversed(L)) + [b] + [None]
        ys += [0.0] + list(Y_LEVELS) + [1.0] + list(reversed(Y_LEVELS)) + [0.0] + [None]
    return xs, ys


fig = go.Figure()

comparison_panels = [
    (A_LEFT, A_RIGHT, A_BOTTOM_TIP, A_TOP_TIP, GREEN_LINE, 1),
    (B_LEFT, B_RIGHT, B_BOTTOM_TIP, B_TOP_TIP, GREEN_LINE, 2),
    (C_LEFT, C_RIGHT, C_BOTTOM_TIP, C_TOP_TIP, RED_LINE, 3),
    (D_LEFT, D_RIGHT, D_BOTTOM_TIP, D_TOP_TIP, RED_LINE, 4),
]
for L, R, bt, tt, col, k in comparison_panels:
    xs, ys = outline_path(L, R, bt, tt)
    fig.add_trace(go.Scatter(
        x=xs, y=ys, mode="lines",
        line=dict(color=col, width=0.65, shape="spline", smoothing=1.0),
        xaxis=f"x{k}", yaxis=f"y{k}", hoverinfo="skip", connectgaps=False,
    ))

mean_panels = [(E_X, E_Y, GREEN_FILL, 5), (F_X, F_Y, GREEN_FILL, 6),
               (G_X, G_Y, RED_FILL, 7), (H_X, H_Y, RED_FILL, 8)]
for xs, ys, col, k in mean_panels:
    fig.add_trace(go.Scatter(
        x=xs, y=ys, mode="lines", fill="toself", fillcolor=col,
        line=dict(color="#222222", width=0.7, shape="spline", smoothing=0.8),
        xaxis=f"x{k}", yaxis=f"y{k}", hoverinfo="skip",
    ))

# panel geometry in pixels: (x0, x1, ytop, ybottom, xrange, yrange, yticks, yticktext)
panels = [
    (42, 460, 17, 347, [-0.6455, 0.624], [0, 1], Y_TICKS_FULL, Y_TICK_TEXT_FULL),
    (494, 916, 17, 347, [-0.638, 0.644], [0, 1], Y_TICKS_FULL, Y_TICK_TEXT_FULL),
    (42, 458, 392, 720, [-0.634, 0.630], [0, 1], Y_TICKS_FULL, Y_TICK_TEXT_FULL),
    (494, 916, 392, 720, [-0.647, 0.632], [0, 1], Y_TICKS_FULL, Y_TICK_TEXT_FULL),
    (42, 458, 765, 1093, [-0.634, 0.624], [0.0085, 0.9955], Y_TICKS_MEAN, Y_TICK_TEXT_MEAN),
    (494, 916, 765, 1093, [-0.637, 0.634], [0.0085, 0.9955], Y_TICKS_MEAN, Y_TICK_TEXT_MEAN),
    (40, 459, 1139, 1467, [-0.646, 0.617], [0.006, 0.996], Y_TICKS_MEAN, Y_TICK_TEXT_MEAN),
    (494, 916, 1139, 1467, [-0.636, 0.636], [0.006, 0.996], Y_TICKS_MEAN, Y_TICK_TEXT_MEAN),
]

layout_axes = {}
for i, (x0, x1, yt, yb, xr, yr, ytv, ytt) in enumerate(panels, start=1):
    sx = "" if i == 1 else str(i)
    common = dict(showgrid=False, zeroline=False, showline=True, linecolor=AXIS_COLOR, linewidth=1,
                  ticks="inside", ticklen=4, tickcolor=AXIS_COLOR, tickwidth=1,
                  tickfont=TICK_FONT, fixedrange=True)
    layout_axes[f"xaxis{sx}"] = dict(
        domain=[x0 / W, x1 / W], range=xr, anchor=f"y{i}",
        tickmode="array", tickvals=X_TICKS, ticktext=X_TICK_TEXT, **common)
    layout_axes[f"yaxis{sx}"] = dict(
        domain=[1 - yb / H, 1 - yt / H], range=yr, anchor=f"x{i}",
        tickmode="array", tickvals=ytv, ticktext=ytt, **common)

fig.update_layout(**layout_axes)

annotations = []


def ann(text, xp, yp, size, family=SANS, color="#333333", angle=0, xanchor="center", yanchor="middle"):
    annotations.append(dict(text=text, x=xp / W, y=1 - yp / H, xref="paper", yref="paper",
                            showarrow=False, textangle=angle, xanchor=xanchor, yanchor=yanchor,
                            font=dict(family=family, size=size, color=color)))


titles = [TITLE_COMPARE] * 4 + [TITLE_MEAN] * 4
title_pos = [(250, 10), (703, 10), (250, 384), (703, 384), (250, 757), (703, 757), (250, 1131), (703, 1131)]
xlab_pos = [(250, 369), (703, 369), (250, 743), (707, 743), (252, 1116), (703, 1116), (254, 1490), (703, 1490)]
ylab_pos = [(16, 182), (468, 182), (16, 555), (468, 555), (16, 928), (466, 928), (16, 1303), (466, 1303)]
letter_pos = [(430, 57), (869, 63), (428, 427), (863, 427), (429, 800), (863, 812), (425, 1170), (883, 1192)]

for t, (xp, yp) in zip(titles, title_pos):
    ann(f"<b>{t}</b>", xp, yp, 10, color="#111111")
for (xp, yp) in xlab_pos:
    ann(X_LABEL, xp, yp, 10, color="#444444")
for (xp, yp) in ylab_pos:
    ann(Y_LABEL, xp, yp, 10, color="#444444", angle=-90)
for letter, (xp, yp) in zip(PANEL_LETTERS, letter_pos):
    ann(letter, xp, yp + 13, 58, family="Liberation Serif, Times New Roman, serif",
        color="#000000", yanchor="bottom")

fig.update_layout(
    width=W, height=H, margin=dict(l=0, r=0, t=0, b=0),
    paper_bgcolor="white", plot_bgcolor="white", showlegend=False,
    annotations=annotations,
)

fig.write_html(
    "out.html",
    config={"displayModeBar": False, "staticPlot": True},
    post_script="document.body.style.margin='0px';document.body.style.padding='0px';"
                "document.body.style.overflow='hidden';",
)
